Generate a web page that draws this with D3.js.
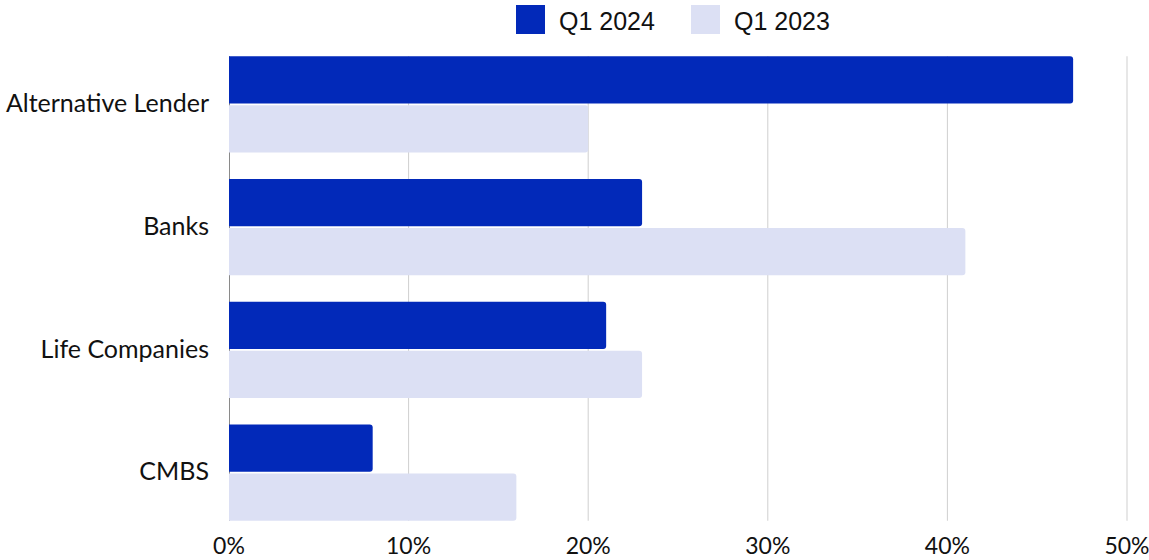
<!DOCTYPE html>
<html>
<head>
<meta charset="utf-8">
<script src="https://cdn.jsdelivr.net/npm/d3@7"></script>
<style>
  body { margin: 0; background: #fff; }
  text { font-family: Lato, "Noto Sans", sans-serif; fill: #111; }
</style>
</head>
<body>
<div id="chart"></div>
<script>
// data
var categories = ["Alternative Lender", "Banks", "Life Companies", "CMBS"];
var seriesNames = ["Q1 2024", "Q1 2023"];
var q1_2024 = [47, 23, 21, 8];
var q1_2023 = [20, 41, 23, 16];
var xTicks = [0, 10, 20, 30, 40, 50];
var colors = ["#0229B9", "#DCE0F4"];

var W = 1149, H = 560;
var margin = { left: 229, right: 22, top: 43, bottom: 26 };

var svg = d3.select("#chart").append("svg")
    .attr("width", W)
    .attr("height", H);

var x = d3.scaleLinear()
    .domain([0, 50])
    .range([margin.left, W - margin.right]);

var y0 = d3.scaleBand()
    .domain(categories)
    .range([margin.top, H - margin.bottom]);

var y1 = d3.scaleBand()
    .domain(seriesNames)
    .range([0, y0.bandwidth()])
    .paddingInner(0.04)
    .paddingOuter(0.27);

var rows = categories.map(function (c, i) {
    return { cat: c, values: [q1_2024[i], q1_2023[i]] };
});

var gridTop = y0(categories[0]) + y1(seriesNames[0]);
var gridBottom = y0(categories[categories.length - 1]) + y1(seriesNames[1]) + y1.bandwidth();

// gridlines
svg.append("g").selectAll("line")
    .data(xTicks.slice(1))
    .enter().append("line")
    .attr("x1", function (d) { return x(d); })
    .attr("x2", function (d) { return x(d); })
    .attr("y1", gridTop)
    .attr("y2", gridBottom)
    .attr("stroke", "#cfcfcf")
    .attr("stroke-width", 1);

// left axis line
svg.append("line")
    .attr("x1", x(0) + 0.5).attr("x2", x(0) + 0.5)
    .attr("y1", gridTop).attr("y2", gridBottom)
    .attr("stroke", "#8a8a8a")
    .attr("stroke-width", 1);

// bar with rounded right end
function barPath(x0, x1, yy, h, r) {
    r = Math.min(r, (x1 - x0) / 2);
    return "M" + x0 + "," + yy +
        "H" + (x1 - r) +
        "Q" + x1 + "," + yy + " " + x1 + "," + (yy + r) +
        "V" + (yy + h - r) +
        "Q" + x1 + "," + (yy + h) + " " + (x1 - r) + "," + (yy + h) +
        "H" + x0 + "Z";
}

var groups = svg.append("g").selectAll("g")
    .data(rows)
    .enter().append("g")
    .attr("transform", function (d) { return "translate(0," + y0(d.cat) + ")"; });

groups.selectAll("path")
    .data(function (d) { return d.values.map(function (v, i) { return { s: seriesNames[i], v: v, i: i }; }); })
    .enter().append("path")
    .attr("d", function (d) { return barPath(x(0), x(d.v), y1(d.s), y1.bandwidth(), 3); })
    .attr("fill", function (d) { return colors[d.i]; });

// category labels
svg.append("g").selectAll("text")
    .data(categories)
    .enter().append("text")
    .attr("x", 209)
    .attr("y", function (d) { return y0(d) + y0.bandwidth() / 2 - 1; })
    .attr("dy", "0.35em")
    .attr("text-anchor", "end")
    .attr("font-size", "25px")
    .text(function (d) { return d; });

// x tick labels
svg.append("g").selectAll("text")
    .data(xTicks)
    .enter().append("text")
    .attr("x", function (d) { return x(d); })
    .attr("y", 554)
    .attr("text-anchor", "middle")
    .attr("font-size", "23px")
    .text(function (d) { return d + "%"; });

// legend
var legendX = [516, 691];
var legend = svg.append("g").selectAll("g")
    .data(seriesNames)
    .enter().append("g")
    .attr("transform", function (d, i) { return "translate(" + legendX[i] + ",5)"; });

legend.append("rect")
    .attr("width", 29)
    .attr("height", 29)
    .attr("fill", function (d, i) { return colors[i]; });

legend.append("text")
    .attr("x", 43)
    .attr("y", 25)
    .style("font-family", "'Liberation Sans', Arial, sans-serif")
    .attr("font-size", "25px")
    .text(function (d) { return d; });
</script>
</body>
</html>
